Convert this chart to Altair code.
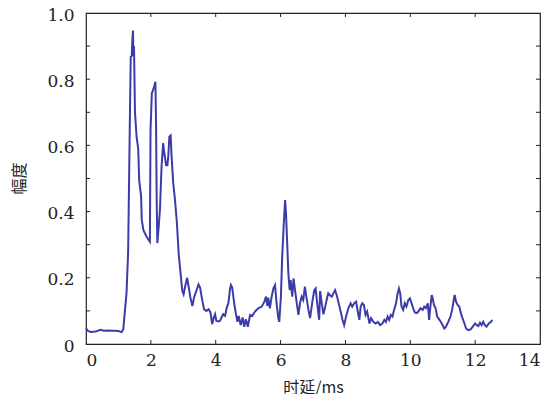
import altair as alt
import pandas as pd

# 时延 (ms)
delay = [0.00, 0.05, 0.15, 0.30, 0.45, 0.55, 0.70, 0.85, 1.00, 1.10, 1.15,
         1.20, 1.25, 1.30, 1.33, 1.36, 1.38, 1.41, 1.43, 1.45, 1.46, 1.48, 1.51, 1.56, 1.61, 1.64,
         1.70, 1.72, 1.77, 1.87, 1.97, 1.99, 2.03, 2.10, 2.14, 2.16, 2.18, 2.20, 2.25, 2.28,
         2.33, 2.38, 2.41, 2.47, 2.51, 2.54, 2.57, 2.61, 2.64, 2.69, 2.74, 2.80, 2.86, 2.92,
         2.97, 3.01, 3.06, 3.12, 3.17, 3.22, 3.28, 3.33, 3.40, 3.47, 3.52, 3.57, 3.64, 3.71,
         3.78, 3.84, 3.89, 3.94, 3.98, 4.02, 4.07, 4.13, 4.18, 4.23, 4.29, 4.34, 4.39, 4.44,
         4.47, 4.51, 4.57, 4.62, 4.67, 4.71, 4.77, 4.83, 4.88, 4.93, 4.99, 5.06, 5.13, 5.21,
         5.31, 5.42, 5.50, 5.55, 5.59, 5.62, 5.67, 5.72, 5.78, 5.83, 5.88, 5.93, 5.96, 6.01,
         6.05, 6.10, 6.14, 6.17, 6.20, 6.24, 6.28, 6.31, 6.36, 6.40, 6.45, 6.50, 6.55, 6.60,
         6.65, 6.70, 6.75, 6.80, 6.86, 6.91, 6.98, 7.04, 7.08, 7.13, 7.19, 7.22, 7.27, 7.32,
         7.37, 7.42, 7.47, 7.52, 7.58, 7.63, 7.68, 7.73, 7.78, 7.85, 7.91, 7.96, 8.02, 8.09,
         8.16, 8.21, 8.27, 8.33, 8.38, 8.43, 8.47, 8.52, 8.57, 8.62, 8.67, 8.74, 8.79, 8.86,
         8.93, 9.00, 9.07, 9.14, 9.20, 9.25, 9.30, 9.35, 9.40, 9.45, 9.50, 9.56, 9.61, 9.65,
         9.69, 9.73, 9.78, 9.83, 9.88, 9.94, 9.99, 10.04, 10.09, 10.14, 10.20, 10.25, 10.31,
         10.38, 10.43, 10.48, 10.54, 10.58, 10.62, 10.66, 10.69, 10.73, 10.78, 10.83, 10.90,
         10.97, 11.05, 11.10, 11.17, 11.24, 11.29, 11.34, 11.37, 11.41, 11.46, 11.51, 11.56,
         11.61, 11.67, 11.72, 11.79, 11.86, 11.92, 12.00, 12.05, 12.10, 12.15, 12.20, 12.25,
         12.30, 12.35, 12.42, 12.49, 12.53]

# 幅度
amplitude = [0.048, 0.040, 0.036, 0.038, 0.043, 0.040, 0.041, 0.040, 0.039, 0.036, 0.045,
             0.100, 0.154, 0.280, 0.505, 0.730, 0.868, 0.870, 0.918, 0.947, 0.870, 0.900, 0.700, 0.626, 0.590, 0.495,
             0.445, 0.375, 0.344, 0.324, 0.309, 0.647, 0.757, 0.777, 0.792, 0.667, 0.435, 0.305, 0.365, 0.405,
             0.536, 0.607, 0.580, 0.540, 0.540, 0.570, 0.626, 0.630, 0.566, 0.486, 0.440, 0.370, 0.270, 0.210,
             0.160, 0.150, 0.175, 0.200, 0.170, 0.140, 0.115, 0.140, 0.160, 0.180, 0.170, 0.140, 0.105, 0.100,
             0.105, 0.095, 0.060, 0.080, 0.090, 0.070, 0.068, 0.070, 0.080, 0.090, 0.085, 0.110, 0.123, 0.165,
             0.178, 0.170, 0.123, 0.093, 0.067, 0.085, 0.057, 0.080, 0.052, 0.075, 0.052, 0.088, 0.085, 0.098,
             0.108, 0.113, 0.128, 0.143, 0.115, 0.140, 0.108, 0.140, 0.168, 0.178, 0.120, 0.078, 0.067, 0.143,
             0.264, 0.365, 0.435, 0.390, 0.314, 0.214, 0.163, 0.193, 0.143, 0.198, 0.160, 0.123, 0.088, 0.123,
             0.143, 0.133, 0.173, 0.140, 0.103, 0.078, 0.128, 0.163, 0.168, 0.123, 0.073, 0.160, 0.123, 0.090,
             0.110, 0.133, 0.153, 0.148, 0.143, 0.153, 0.163, 0.148, 0.128, 0.100, 0.073, 0.057, 0.083, 0.108,
             0.123, 0.113, 0.123, 0.128, 0.098, 0.073, 0.113, 0.123, 0.118, 0.088, 0.098, 0.062, 0.078, 0.067,
             0.062, 0.067, 0.057, 0.062, 0.073, 0.067, 0.083, 0.073, 0.088, 0.083, 0.103, 0.123, 0.153, 0.168,
             0.153, 0.113, 0.103, 0.123, 0.113, 0.133, 0.138, 0.123, 0.108, 0.095, 0.093, 0.098, 0.108,
             0.103, 0.113, 0.108, 0.123, 0.073, 0.113, 0.148, 0.138, 0.118, 0.108, 0.083, 0.073,
             0.062, 0.047, 0.052, 0.067, 0.083, 0.103, 0.133, 0.148, 0.128, 0.118, 0.113, 0.093,
             0.078, 0.062, 0.047, 0.042, 0.044, 0.052, 0.062, 0.057, 0.054, 0.064, 0.057, 0.067,
             0.057, 0.052, 0.062, 0.067, 0.073]

x_labels = [0, 2, 4, 6, 8, 10, 12, 14]
y_labels = [0, 0.2, 0.4, 0.6, 0.8, 1.0]
x_ticks = [2, 4, 6, 8, 10, 12]
y_ticks = [0.1, 0.2, 0.3, 0.4, 0.5, 0.6, 0.7, 0.8, 0.9]

df = pd.DataFrame({"t": delay, "a": amplitude})
xt = pd.DataFrame({"v": x_ticks})
yt = pd.DataFrame({"v": y_ticks})

NUM_FONT = "DejaVu Serif"
CJK_FONT = "Noto Sans CJK SC"
LINE_COLOR = "#3c3ca8"
INK = "#222222"
W, H, TL = 454, 331, 4

xs = alt.Scale(domain=[0, 14], nice=False, zero=False)
ys = alt.Scale(domain=[0, 1], nice=False)

line = alt.Chart(df).mark_line(color=LINE_COLOR, strokeWidth=2).encode(
    x=alt.X("t:Q", scale=xs, axis=alt.Axis(
        orient="bottom", values=x_labels, title="时延/ms", labelPadding=8,
        titleY=43, titleBaseline="middle")),
    y=alt.Y("a:Q", scale=ys, axis=alt.Axis(
        orient="left", values=y_labels, title="幅度", labelPadding=12, labelOffset=2,
        labelExpr="datum.value == 0 ? '0' : format(datum.value, '.1f')",
        titleX=-67, titleY=165, titleAlign="center", titleBaseline="middle")),
)

rule_style = dict(color=INK, strokeWidth=1)
tick_bottom = alt.Chart(xt).mark_rule(**rule_style).encode(
    x=alt.X("v:Q", scale=xs), y=alt.value(H), y2=alt.value(H - TL))
tick_top = alt.Chart(xt).mark_rule(**rule_style).encode(
    x=alt.X("v:Q", scale=xs), y=alt.value(0), y2=alt.value(TL))
tick_left = alt.Chart(yt).mark_rule(**rule_style).encode(
    y=alt.Y("v:Q", scale=ys), x=alt.value(0), x2=alt.value(TL))
tick_right = alt.Chart(yt).mark_rule(**rule_style).encode(
    y=alt.Y("v:Q", scale=ys), x=alt.value(W), x2=alt.value(W - TL))

chart = alt.layer(line, tick_bottom, tick_top, tick_left, tick_right).properties(
    width=W, height=H,
    autosize=alt.AutoSizeParams(type="none"),
    padding={"left": 78, "top": 5, "right": 10, "bottom": 50},
).configure_view(
    stroke=INK, strokeWidth=1.2
).configure_axis(
    labelFont=NUM_FONT, labelFontSize=17, labelColor=INK,
    titleFont=CJK_FONT, titleFontSize=16, titleFontWeight="normal", titleColor=INK,
    ticks=False, tickSize=0, domain=False, grid=False,
)

chart.save("out.html", embed_options={"renderer": "svg", "actions": False})
